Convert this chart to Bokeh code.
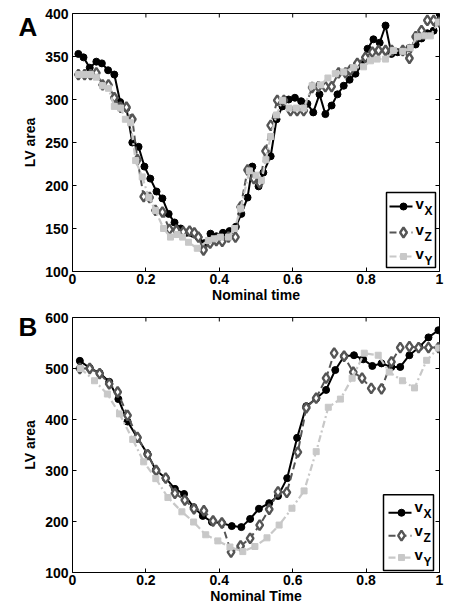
from bokeh.plotting import figure
from bokeh.models import FixedTicker, Range1d
from bokeh.core.properties import value
from bokeh.layouts import column
from bokeh.embed import file_html
from bokeh.resources import INLINE

# ---------------- Panel A data ----------------
A_vx_t = [0.016, 0.030, 0.047, 0.065, 0.080, 0.097, 0.114, 0.130, 0.147, 0.163, 0.180, 0.196, 0.212, 0.229, 0.245,
          0.262, 0.278, 0.295, 0.311, 0.327, 0.343, 0.360, 0.376, 0.392, 0.410, 0.428, 0.445, 0.460, 0.477, 0.490,
          0.507, 0.520, 0.540, 0.556, 0.572, 0.589, 0.606, 0.623, 0.640, 0.656, 0.673, 0.689, 0.706, 0.722, 0.739,
          0.755, 0.771, 0.788, 0.804, 0.820, 0.837, 0.853, 0.869, 0.886, 0.902, 0.918, 0.935, 0.951, 0.967, 0.984, 1.000]
A_vx = [353, 349, 337, 344, 342, 334, 329, 297, 290, 250, 245, 222, 208, 193, 185,
        167, 157, 150, 145, 144, 140, 133, 144, 141, 145, 147, 152, 167, 186, 222,
        199, 215, 234, 277, 292, 300, 302, 298, 295, 285, 306, 283, 293, 306, 316,
        323, 330, 340, 359, 370, 366, 386, 353, 355, 356, 360, 364, 371, 377, 380, 400]

A_vz_t = [0.016, 0.033, 0.049, 0.065, 0.082, 0.098, 0.114, 0.131, 0.147, 0.163, 0.177, 0.194, 0.210, 0.226, 0.245,
          0.264, 0.283, 0.302, 0.319, 0.332, 0.343, 0.357, 0.375, 0.392, 0.408, 0.425, 0.444, 0.458, 0.477, 0.494,
          0.510, 0.526, 0.540, 0.558, 0.576, 0.594, 0.612, 0.630, 0.653, 0.670, 0.689, 0.706, 0.725, 0.744, 0.757,
          0.776, 0.798, 0.817, 0.834, 0.853, 0.870, 0.900, 0.918, 0.935, 0.951, 0.967, 0.984, 1.000]
A_vz = [329, 329, 329, 331, 317, 317, 302, 291, 291, 277, 230, 187, 186, 171, 169,
        149, 148, 146, 147, 145, 140, 125, 133, 136, 135, 140, 140, 175, 218, 208,
        203, 240, 270, 299, 299, 287, 287, 287, 314, 315, 315, 315, 331, 331, 334,
        342, 349, 355, 357, 357, 357, 357, 348, 373, 380, 392, 392, 390]

A_vy_t = [0.016, 0.033, 0.049, 0.065, 0.082, 0.098, 0.114, 0.131, 0.144, 0.158, 0.172, 0.190, 0.208, 0.226, 0.248,
          0.267, 0.285, 0.300, 0.316, 0.340, 0.370, 0.386, 0.403, 0.425, 0.442, 0.458, 0.482, 0.500, 0.515, 0.527,
          0.540, 0.556, 0.572, 0.590, 0.610, 0.630, 0.653, 0.676, 0.696, 0.716, 0.739, 0.766, 0.793, 0.812, 0.830,
          0.853, 0.875, 0.900, 0.920, 0.940, 0.958, 0.975, 0.997]
A_vy = [329, 329, 329, 326, 316, 313, 292, 290, 277, 273, 229, 210, 186, 171, 150,
        140, 143, 140, 134, 127, 136, 138, 140, 140, 150, 173, 217, 212, 206, 230,
        257, 282, 299, 290, 290, 290, 316, 317, 325, 330, 332, 337, 338, 345, 347,
        347, 357, 356, 360, 373, 374, 374, 390]

# ---------------- Panel B data ----------------
B_vx_t = [0.020, 0.047, 0.074, 0.100, 0.125, 0.150, 0.177, 0.204, 0.227, 0.254, 0.279, 0.304, 0.330, 0.355, 0.380,
          0.407, 0.434, 0.460, 0.484, 0.508, 0.536, 0.560, 0.585, 0.612, 0.637, 0.664, 0.691, 0.716, 0.740, 0.767,
          0.792, 0.817, 0.842, 0.869, 0.893, 0.918, 0.945, 0.970, 0.997]
B_vx = [515, 501, 491, 474, 440, 396, 364, 333, 301, 285, 264, 254, 228, 211, 199,
        197, 191, 189, 205, 225, 236, 250, 285, 364, 426, 441, 458, 497, 524, 526,
        518, 505, 510, 503, 503, 526, 542, 561, 575]

B_vz_t = [0.020, 0.047, 0.074, 0.100, 0.123, 0.150, 0.177, 0.205, 0.228, 0.254, 0.279, 0.306, 0.331, 0.358, 0.383,
          0.407, 0.432, 0.458, 0.484, 0.510, 0.536, 0.560, 0.584, 0.614, 0.637, 0.664, 0.691, 0.713, 0.740, 0.765,
          0.789, 0.814, 0.842, 0.869, 0.893, 0.918, 0.943, 0.970, 0.997]
B_vz = [500, 500, 490, 470, 454, 408, 365, 331, 300, 285, 255, 242, 225, 221, 201,
        197, 140, 152, 167, 193, 224, 258, 257, 336, 423, 442, 481, 530, 524, 493,
        481, 461, 460, 513, 541, 543, 541, 541, 541]

B_vy_t = [0.022, 0.060, 0.095, 0.128, 0.164, 0.194, 0.227, 0.260, 0.298, 0.330, 0.363, 0.396, 0.429, 0.464, 0.497,
          0.530, 0.563, 0.598, 0.631, 0.664, 0.697, 0.730, 0.762, 0.795, 0.833, 0.863, 0.899, 0.932, 0.965, 0.997]
B_vy = [500, 476, 450, 411, 361, 317, 284, 247, 219, 199, 174, 162, 150, 141, 151,
        168, 193, 226, 260, 337, 424, 440, 481, 530, 526, 493, 476, 462, 516, 540]

X_TICKS = [0, 0.2, 0.4, 0.6, 0.8, 1]
A_Y_TICKS = [100, 150, 200, 250, 300, 350, 400]
B_Y_TICKS = [100, 200, 300, 400, 500, 600]
SERIES_NAMES = ["v", "v", "v"]
SERIES_SUBS = ["X", "Z", "Y"]

FONT = "Liberation Sans"
C_X, C_Z, C_Y = "black", "#555555", "#c8c8c8"
BORDER_L, BORDER_R = 72, 12
FRAME_W = 451 - BORDER_L - BORDER_R


def style_axis(ax):
    ax.major_tick_in = 4
    ax.major_tick_out = 0
    ax.minor_tick_in = 0
    ax.minor_tick_out = 0
    ax.axis_line_color = None
    ax.major_tick_line_color = "black"
    ax.major_tick_line_width = 1
    ax.major_label_text_font = FONT
    ax.major_label_text_font_style = "bold"
    ax.major_label_text_color = "black"
    ax.major_label_text_font_size = "14px"
    ax.axis_label_text_font = FONT
    ax.axis_label_text_font_style = "bold"
    ax.axis_label_text_font_size = "14px"
    ax.axis_label_text_color = "black"


def make_panel(height, top, bottom, frame_h, ylo, yhi, yticks, xlabel, series, letter, letter_pos, leg):
    p = figure(width=451, height=height, x_range=Range1d(0, 1), y_range=Range1d(ylo, yhi),
               output_backend="svg", toolbar_location=None,
               min_border_left=BORDER_L, min_border_right=BORDER_R,
               min_border_top=top, min_border_bottom=bottom)
    p.grid.visible = False
    p.outline_line_color = "black"
    p.outline_line_width = 1
    p.background_fill_color = "white"
    p.border_fill_color = "white"

    p.xaxis.ticker = FixedTicker(ticks=X_TICKS)
    p.yaxis.ticker = FixedTicker(ticks=yticks)
    style_axis(p.xaxis[0])
    style_axis(p.yaxis[0])
    p.xaxis.major_label_overrides = {0: "0", 1: "1"}
    p.xaxis.major_label_standoff = 2
    p.xaxis.axis_label = xlabel
    p.xaxis.axis_label_standoff = 0
    p.yaxis.major_label_standoff = 4
    p.yaxis.axis_label = "LV area"
    p.yaxis.axis_label_standoff = 4

    # pixel -> data helpers (relative to the frame's top-left corner)
    xpp = 1.0 / FRAME_W
    ypp = (yhi - ylo) / frame_h

    def X(px):
        return px * xpp

    def Y(py):
        return yhi - py * ypp

    # inward ticks on the top and right edges of the box
    p.segment(x0=X_TICKS, y0=[yhi] * len(X_TICKS), x1=X_TICKS, y1=[yhi - 4 * ypp] * len(X_TICKS),
              line_color="black", line_width=1)
    p.segment(x0=[1] * len(yticks), y0=yticks, x1=[1 - 4 * xpp] * len(yticks), y1=yticks,
              line_color="black", line_width=1)

    styles = [
        dict(line=dict(line_color=C_X, line_width=2),
             mark=dict(marker="circle", size=7, fill_color=C_X, line_color=C_X)),
        dict(line=dict(line_color=C_Z, line_width=2, line_dash="7 4"),
             mark=dict(marker="diamond", size=10, fill_color="white", line_color=C_Z, line_width=2.4)),
        dict(line=dict(line_color=C_Y, line_width=2.2, line_dash="7 3 2 3"),
             mark=dict(marker="square", size=6, fill_color=C_Y, line_color=C_Y)),
    ]
    for (t, v), st in zip(series, styles):
        p.line(t, v, **st["line"])
        p.scatter(t, v, **st["mark"])

    # legend box drawn by hand so that the subscripts can be set
    p.quad(left=[X(leg["box"][0])], right=[X(leg["box"][1])], top=[Y(leg["box"][2])],
           bottom=[Y(leg["box"][3])], fill_color="white", line_color="black", line_width=1.5)
    for i, st in enumerate(styles):
        ry = Y(leg["rows"][i])
        p.line([X(leg["line"][0]), X(leg["line"][1])], [ry, ry], **st["line"])
        p.scatter([X(leg["mark"])], [ry], **st["mark"])
        p.text(x=[X(leg["v_x"])], y=[Y(leg["v_mid"][i])], text=[SERIES_NAMES[i]],
               text_font=value(FONT), text_font_style="bold", text_font_size="15px",
               text_color="black", text_baseline="middle", text_align="left")
        p.text(x=[X(leg["s_x"])], y=[Y(leg["s_mid"][i])], text=[SERIES_SUBS[i]],
               text_font=value(FONT), text_font_style="bold", text_font_size="12px",
               text_color="black", text_baseline="middle", text_align="left")

    # panel letter (outside the frame)
    p.text(x=[X(letter_pos[0])], y=[Y(letter_pos[1])], text=[letter], level="overlay",
           text_font=value(FONT), text_font_style="bold", text_font_size="26px",
           text_color="black", text_baseline="middle", text_align="left")
    return p


# legend geometry in pixels, measured from the frame's top-left corner
LEG_A = dict(box=(314, 363, 179, 254), rows=(193, 219, 243), line=(317, 340), mark=(331),
             v_x=343, v_mid=(190.3, 215.8, 239.8), s_x=352, s_mid=(197.8, 223.8, 247.8))
LEG_B = dict(box=(311, 361, 178, 254), rows=(196, 219, 241), line=(316, 339), mark=(329),
             v_x=342, v_mid=(189.8, 213.8, 237.8), s_x=351, s_mid=(196.8, 221.8, 245.8))

pA = make_panel(308, 13, 37, 258, 100, 400, A_Y_TICKS, "Nominal time",
                [(A_vx_t, A_vx), (A_vz_t, A_vz), (A_vy_t, A_vy)], "A", (-54, 13), LEG_A)
pB = make_panel(298, 9, 32, 256, 100, 600, B_Y_TICKS, "Nominal Time",
                [(B_vx_t, B_vx), (B_vz_t, B_vz), (B_vy_t, B_vy)], "B", (-54, 9.5), LEG_B)

layout = column(pA, pB, spacing=0)
open("out.html", "w").write(file_html(layout, INLINE))
